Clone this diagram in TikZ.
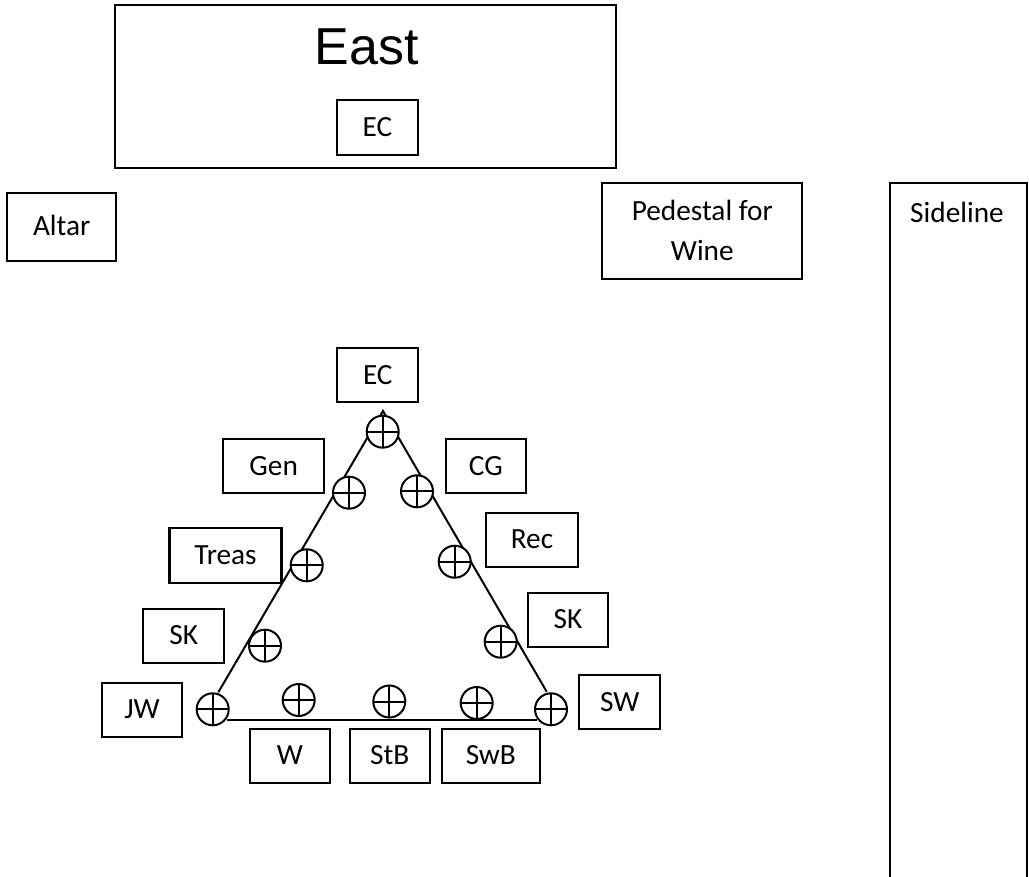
\documentclass[tikz,border=0pt]{standalone}
\usepackage{fontspec}
\newfontfamily\calfont{Carlito}
\newfontfamily\arialfont{Liberation Sans}
\begin{document}
\begin{tikzpicture}[x=1pt,y=-1pt,
  box/.style={draw, line width=2.2pt, inner sep=0pt, font=\calfont\fontsize{29.3}{40}\selectfont, text height=18.5pt, text depth=0pt},
  pbox/.style={draw, line width=2.2pt, inner sep=0pt, align=center, font=\calfont\fontsize{29.3}{40}\selectfont},
  seat/.style={circle, draw, fill=white, line width=2pt, minimum size=32pt, inner sep=0pt,
    path picture={\draw[line width=2pt] (path picture bounding box.north) -- (path picture bounding box.south)
      (path picture bounding box.west) -- (path picture bounding box.east);}},
  edge/.style={line width=2pt}]
\useasboundingbox (0,0) rectangle (1029,877);
\fill[white] (0,0) rectangle (1029,877);

% East
\node[draw, line width=2.2pt, minimum width=501pt, minimum height=163pt, inner sep=0pt] (east) at (365.7,86.2) {};
\node[font=\arialfont\fontsize{52}{60}\selectfont, inner sep=0pt] (easttxt) at (366.5,47.3) {East};
\node[box, minimum width=80.8pt, minimum height=55pt] (ectop) at (377.5,127.3) {EC};

% Altar, Pedestal, Sideline
\node[box, minimum width=108.7pt, minimum height=68pt] (altar) at (61.7,226.7) {Altar};
\node[pbox, minimum width=200pt, minimum height=96.3pt] (pedestal) at (702.3,230.8) {Pedestal for\\Wine};
\node[font=\calfont\fontsize{29.3}{40}\selectfont, inner sep=0pt, text height=18.5pt, text depth=0pt] (sideline) at (957,213.5) {Sideline};
\draw[line width=2.2pt] (890,877) |- (1026.7,182.7) -- (1026.7,877);

% triangle lines
\coordinate (apex) at (383,411);
\coordinate (lft) at (218.3,692.3);
\coordinate (rgt) at (546.7,691.7);
\coordinate (bl) at (226.7,720.3);
\coordinate (br) at (536.7,720.3);
\draw[edge, line join=miter] (lft) -- (apex) -- (rgt);
\draw[edge] (bl) -- (br);

% seats
\node[seat] (s1) at (382.7,431.7) {};
\node[seat] (s2) at (349,492.7) {};
\node[seat] (s3) at (417,491.3) {};
\node[seat] (s4) at (306.7,565.3) {};
\node[seat] (s5) at (454.7,561.7) {};
\node[seat] (s6) at (265,645.7) {};
\node[seat] (s7) at (500.7,641.7) {};
\node[seat] (s8) at (212.7,709.3) {};
\node[seat] (s9) at (551,709.3) {};
\node[seat] (s10) at (298.7,700) {};
\node[seat] (s11) at (389.3,701.5) {};
\node[seat] (s12) at (476.7,703) {};

% labels
\node[box, minimum width=81pt, minimum height=54pt] (ec) at (377.8,375.3) {EC};
\node[box, minimum width=100.7pt, minimum height=53.7pt] (gen) at (273.7,465.8) {Gen};
\node[box, minimum width=80.3pt, minimum height=53.7pt] (cg) at (485.8,465.8) {CG};
\node[box, minimum width=112pt, minimum height=54.4pt] (treas) at (225.5,555.5) {Treas};
\node[box, minimum width=92pt, minimum height=54pt] (rec) at (532,539.7) {Rec};
\node[box, minimum width=81pt, minimum height=54pt] (skl) at (183.8,635.7) {SK};
\node[box, minimum width=80.6pt, minimum height=54pt] (skr) at (568,619.7) {SK};
\node[box, minimum width=80.6pt, minimum height=54pt] (jw) at (142,709.7) {JW};
\node[box, minimum width=80.7pt, minimum height=53.7pt] (sw) at (619.7,701.8) {SW};
\node[box, minimum width=80.3pt, minimum height=54pt] (w) at (289.8,755.7) {W};
\node[box, minimum width=80.3pt, minimum height=54pt] (stb) at (389.8,755.7) {StB};
\node[box, minimum width=98.3pt, minimum height=54pt] (swb) at (490.8,755.7) {SwB};
\end{tikzpicture}
\end{document}
